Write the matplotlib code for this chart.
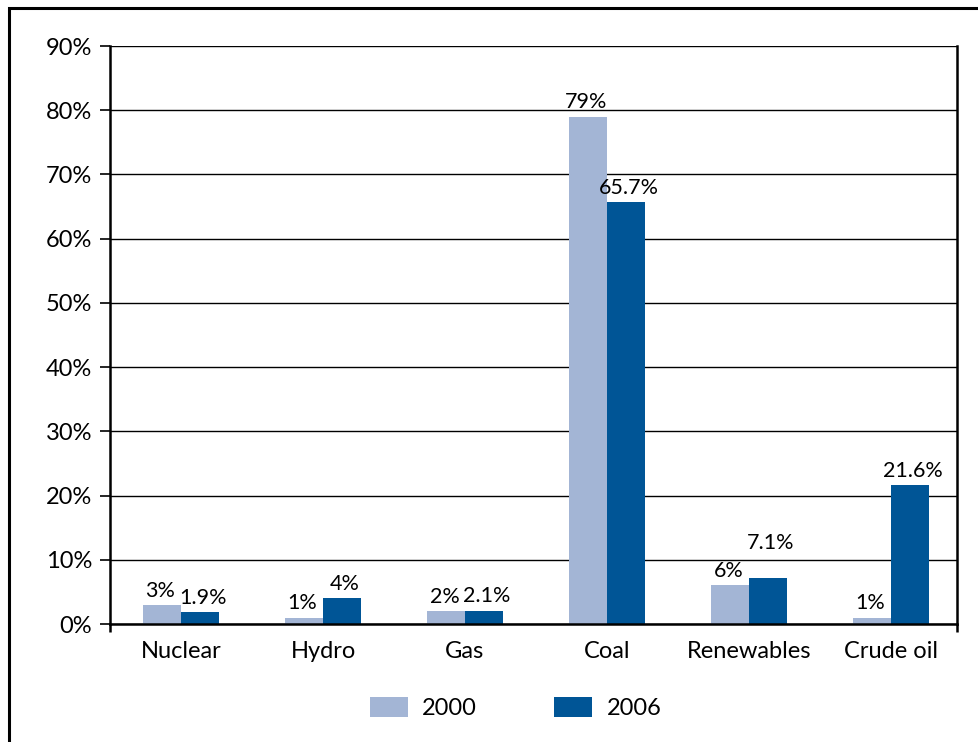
import numpy as np
import matplotlib
matplotlib.use("Agg")
import matplotlib.pyplot as plt
from matplotlib.patches import Rectangle

categories = ["Nuclear", "Hydro", "Gas", "Coal", "Renewables", "Crude oil"]
values_2000 = [3, 1, 2, 79, 6, 1]
values_2006 = [1.9, 4, 2.1, 65.7, 7.1, 21.6]
labels_2000 = ["3%", "1%", "2%", "79%", "6%", "1%"]
labels_2006 = ["1.9%", "4%", "2.1%", "65.7%", "7.1%", "21.6%"]
yticks = [0, 10, 20, 30, 40, 50, 60, 70, 80, 90]

plt.rcParams['font.family'] = ['Lato', 'DejaVu Sans']
fs = 17
c2000 = "#a3b5d5"
c2006 = "#005596"

fig = plt.figure(figsize=(9.79, 7.42), dpi=100)
ax = fig.add_axes([0.1124, 0.159, 0.8651, 0.779])

x = np.arange(len(categories))
w = 0.27
b1 = ax.bar(x - w / 2, values_2000, w, color=c2000, label="2000", zorder=3)
b2 = ax.bar(x + w / 2, values_2006, w, color=c2006, label="2006", zorder=3)

for rect, lab in zip(b1, labels_2000):
    ax.annotate(lab, (rect.get_x() + rect.get_width() / 2, rect.get_height()),
                xytext=(-1, 3), textcoords="offset points", ha="center", va="bottom",
                fontsize=15.5)
for rect, lab in zip(b2, labels_2006):
    # the Renewables label sits higher so it clears the 2000 label
    dy = 18 if lab == "7.1%" else 3
    ax.annotate(lab, (rect.get_x() + rect.get_width() / 2, rect.get_height()),
                xytext=(2, dy), textcoords="offset points", ha="center", va="bottom",
                fontsize=15.5)

ax.set_xlim(-0.5, len(categories) - 0.535)
ax.set_ylim(0, 90)
ax.set_yticks(yticks)
ax.set_yticklabels([f"{t}%" for t in yticks], fontsize=fs)
ax.set_xticks(x)
ax.set_xticklabels(categories, fontsize=fs)
ax.set_xticks([-0.5, len(categories) - 0.535], minor=True)
ax.tick_params(axis="x", which="major", length=0, pad=12)
ax.tick_params(axis="x", which="minor", length=6, width=1.8, direction="out")
ax.tick_params(axis="y", length=7, width=1.2, pad=6)

ax.yaxis.grid(True, color="black", linewidth=1.0, zorder=0)
ax.set_axisbelow(True)
for side in ["left", "bottom", "right"]:
    ax.spines[side].set_linewidth(1.8)
    ax.spines[side].set_zorder(4)
ax.spines["top"].set_visible(False)

fig.legend(handles=[b1, b2], labels=["2000", "2006"], loc="center",
           bbox_to_anchor=(0.5266, 0.046), ncol=2, frameon=False, fontsize=fs,
           handlelength=1.6, handleheight=0.95, handletextpad=0.6, columnspacing=3.3)

# outer frame of the figure (only left and top edges are visible)
fig.patches.append(Rectangle((9 / 979, -0.1), 1.2, 1.1 - 8 / 742, fill=False,
                             edgecolor="black", linewidth=2.2,
                             transform=fig.transFigure, figure=fig))

plt.savefig("out.png", dpi=100)
